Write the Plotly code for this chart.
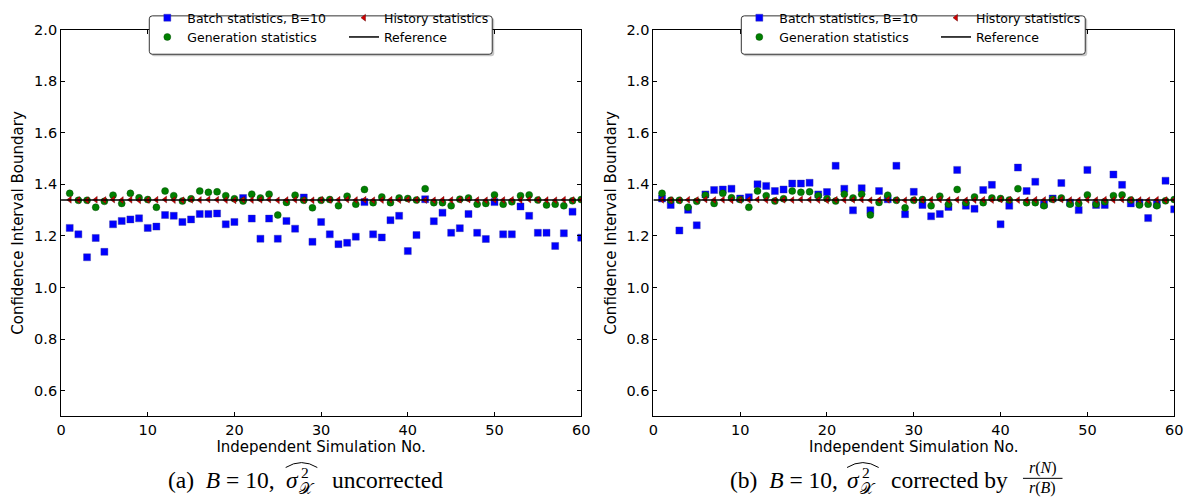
import plotly.graph_objects as go

W, H = 1199, 499

# Simulation index 1..60
sim_no = list(range(1, 61))

# Batch statistics (B=10), uncorrected variance estimator
batch_uncorrected = [
    1.231, 1.206, 1.117, 1.192, 1.138, 1.245, 1.258, 1.264, 1.268, 1.231,
    1.236, 1.281, 1.278, 1.254, 1.264, 1.285, 1.285, 1.287, 1.245, 1.254,
    1.347, 1.267, 1.189, 1.267, 1.189, 1.258, 1.228, 1.349, 1.177, 1.254,
    1.206, 1.168, 1.173, 1.197, 1.331, 1.206, 1.194, 1.261, 1.278, 1.141,
    1.203, 1.342, 1.257, 1.290, 1.212, 1.230, 1.285, 1.212, 1.188, 1.331,
    1.206, 1.206, 1.314, 1.278, 1.212, 1.212, 1.161, 1.210, 1.294, 1.193,
]

# Batch statistics (B=10), corrected by r(N)/r(B)
batch_corrected = [
    1.345, 1.320, 1.221, 1.301, 1.241, 1.361, 1.378, 1.380, 1.383, 1.345,
    1.350, 1.400, 1.394, 1.374, 1.380, 1.403, 1.403, 1.406, 1.361, 1.370,
    1.472, 1.383, 1.299, 1.385, 1.299, 1.374, 1.342, 1.472, 1.284, 1.371,
    1.320, 1.276, 1.285, 1.312, 1.456, 1.317, 1.305, 1.378, 1.398, 1.245,
    1.317, 1.465, 1.374, 1.410, 1.323, 1.345, 1.405, 1.329, 1.300, 1.456,
    1.320, 1.320, 1.438, 1.398, 1.326, 1.329, 1.269, 1.323, 1.414, 1.303,
]

# Generation statistics
generation = [
    1.365, 1.338, 1.338, 1.311, 1.334, 1.358, 1.326, 1.365, 1.348, 1.341,
    1.311, 1.374, 1.356, 1.335, 1.344, 1.374, 1.369, 1.371, 1.356, 1.344,
    1.335, 1.362, 1.347, 1.362, 1.281, 1.330, 1.358, 1.338, 1.309, 1.338,
    1.341, 1.317, 1.354, 1.323, 1.380, 1.329, 1.351, 1.329, 1.347, 1.345,
    1.339, 1.383, 1.329, 1.329, 1.317, 1.342, 1.347, 1.323, 1.326, 1.359,
    1.323, 1.332, 1.356, 1.359, 1.339, 1.320, 1.323, 1.317, 1.336, 1.341,
]

# History statistics
history = [
    1.340, 1.339, 1.338, 1.340, 1.339, 1.341, 1.339, 1.340, 1.338, 1.339,
    1.340, 1.341, 1.339, 1.338, 1.340, 1.339, 1.341, 1.340, 1.339, 1.338,
    1.340, 1.339, 1.340, 1.341, 1.338, 1.339, 1.340, 1.339, 1.338, 1.340,
    1.339, 1.340, 1.341, 1.339, 1.340, 1.338, 1.339, 1.340, 1.339, 1.341,
    1.340, 1.339, 1.338, 1.340, 1.339, 1.340, 1.341, 1.339, 1.338, 1.340,
    1.339, 1.340, 1.339, 1.341, 1.340, 1.339, 1.338, 1.340, 1.339, 1.340,
]

# Reference value
reference = 1.339
ref_x = [0, 60]

y_ticks = [0.6, 0.8, 1.0, 1.2, 1.4, 1.6, 1.8, 2.0]
x_ticks = [0, 10, 20, 30, 40, 50, 60]

FONT = "DejaVu Sans"
SERIF = "Liberation Serif"
BLUE = "#0000ff"
GREEN = "#008000"
RED = "#d00000"


def px(x):
    return x / W


def py(y):
    return 1 - y / H


fig = go.Figure()

# (x axis, y axis, legend for column 1, legend for column 2, batch series)
panels = [
    ("x", "y", "legend", "legend2", batch_uncorrected),
    ("x2", "y2", "legend3", "legend4", batch_corrected),
]

for xa, ya, lg_a, lg_b, batch in panels:
    fig.add_trace(go.Scatter(
        x=sim_no, y=batch, mode="markers", xaxis=xa, yaxis=ya, legend=lg_a,
        name="Batch statistics, B=10", legendrank=1,
        marker=dict(symbol="square", size=7, color=BLUE,
                    line=dict(color="#3030a0", width=0.4)),
    ))
    fig.add_trace(go.Scatter(
        x=sim_no, y=generation, mode="markers", xaxis=xa, yaxis=ya, legend=lg_a,
        name="Generation statistics", legendrank=2,
        marker=dict(symbol="circle", size=7, color=GREEN,
                    line=dict(color="#004000", width=0.4)),
    ))
    fig.add_trace(go.Scatter(
        x=sim_no, y=history, mode="markers", xaxis=xa, yaxis=ya, legend=lg_b,
        name="History statistics", legendrank=1,
        marker=dict(symbol="triangle-left", size=6, color=RED,
                    line=dict(color="#500000", width=0.4)),
    ))
    fig.add_trace(go.Scatter(
        x=ref_x, y=[reference, reference], mode="lines", xaxis=xa, yaxis=ya,
        legend=lg_b, name="Reference", legendrank=2,
        line=dict(color="black", width=1.5),
    ))

axis_common = dict(
    showgrid=False, zeroline=False, showline=True, linecolor="black",
    linewidth=1, mirror="allticks", ticks="inside", ticklen=4,
    tickcolor="black", tickfont=dict(family=FONT, size=14.5, color="black"),
)
title_font = dict(family=FONT, size=15, color="black")

x_dom_a = [px(56.7), px(583)]
x_dom_b = [px(656), px(1183)]
y_dom = [py(415), py(22)]

legend_common = dict(
    orientation="v", bgcolor="rgba(0,0,0,0)", borderwidth=0,
    font=dict(family=FONT, size=12.5, color="black"),
    xanchor="left", yanchor="top", y=py(-5), tracegroupgap=0,
)

fig.update_layout(
    width=W, height=H,
    margin=dict(l=0, r=0, t=0, b=0),
    paper_bgcolor="white", plot_bgcolor="white",
    xaxis=dict(domain=x_dom_a, range=[0, 60], tickvals=x_ticks, anchor="y",
               title=dict(text="Independent Simulation No.", standoff=0,
                          font=title_font),
               **axis_common),
    yaxis=dict(domain=y_dom, range=[0.5, 2.0], tickvals=y_ticks,
               tickformat=".1f", anchor="x",
               title=dict(text="Confidence Interval Boundary", standoff=6,
                          font=title_font),
               **axis_common),
    xaxis2=dict(domain=x_dom_b, range=[0, 60], tickvals=x_ticks, anchor="y2",
                title=dict(text="Independent Simulation No.", standoff=0,
                           font=title_font),
                **axis_common),
    yaxis2=dict(domain=y_dom, range=[0.5, 2.0], tickvals=y_ticks,
                tickformat=".1f", anchor="x2",
                title=dict(text="Confidence Interval Boundary", standoff=6,
                           font=title_font),
                **axis_common),
    legend=dict(x=px(144), **legend_common),
    legend2=dict(x=px(343), **legend_common),
    legend3=dict(x=px(743), **legend_common),
    legend4=dict(x=px(942), **legend_common),
    showlegend=True,
)


def rounded_box(x0, y0, x1, y1, r):
    """Rounded rectangle path in paper coordinates from pixel corners."""
    pts = [
        f"M {px(x0 + r)},{py(y0)}",
        f"L {px(x1 - r)},{py(y0)}",
        f"Q {px(x1)},{py(y0)} {px(x1)},{py(y0 + r)}",
        f"L {px(x1)},{py(y1 - r)}",
        f"Q {px(x1)},{py(y1)} {px(x1 - r)},{py(y1)}",
        f"L {px(x0 + r)},{py(y1)}",
        f"Q {px(x0)},{py(y1)} {px(x0)},{py(y1 - r)}",
        f"L {px(x0)},{py(y0 + r)}",
        f"Q {px(x0)},{py(y0)} {px(x0 + r)},{py(y0)}",
        "Z",
    ]
    return " ".join(pts)


# Legend frames with a soft shadow
for x0, x1 in [(146, 493), (745, 1093)]:
    fig.add_shape(type="path", xref="paper", yref="paper", layer="above",
                  path=rounded_box(x0 + 2, 10, x1 + 2, 49, 3),
                  fillcolor="rgba(0,0,0,0.22)", line=dict(width=0))
    fig.add_shape(type="path", xref="paper", yref="paper", layer="above",
                  path=rounded_box(x0, 8, x1, 47, 3),
                  fillcolor="white", line=dict(color="#333333", width=1))

# Sub-figure captions, assembled from pieces
cap_font = dict(family=SERIF, size=23.5, color="black")
small_font = dict(family=SERIF, size=15.5, color="black")


def text_at(x, y, text, font, anchor="left"):
    fig.add_annotation(x=px(x), y=py(y), xref="paper", yref="paper",
                       xanchor=anchor, yanchor="middle", showarrow=False,
                       font=font, text=text)


def sigma_hat(x_left, y):
    """sigma with a superscript 2, script-X subscript and a wide hat."""
    text_at(x_left - 2, y, "<i>σ</i>", cap_font)
    text_at(x_left + 13, y - 8, "2", small_font)
    text_at(x_left + 11, y + 8, "𝒳", small_font)
    fig.add_shape(type="path", xref="paper", yref="paper",
                  path=(f"M {px(x_left)},{py(y - 13)} "
                        f"Q {px(x_left + 16)},{py(y - 23)} "
                        f"{px(x_left + 32)},{py(y - 13)}"),
                  line=dict(color="black", width=1))


cap_y = 480
text_at(275, cap_y, "(a)  <i>B</i> = 10,", cap_font, anchor="right")
sigma_hat(284, cap_y)
text_at(329, cap_y, "uncorrected", cap_font)

text_at(845, cap_y, "(b)  <i>B</i> = 10,", cap_font, anchor="right")
sigma_hat(852, cap_y)
text_at(894, cap_y, "corrected by", cap_font)

frac_font = dict(family=SERIF, size=16, color="black")
text_at(1050, 468, "<i>r</i>(<i>N</i>)", frac_font, anchor="center")
text_at(1050, 488, "<i>r</i>(<i>B</i>)", frac_font, anchor="center")
fig.add_shape(type="line", xref="paper", yref="paper",
              x0=px(1030), x1=px(1070), y0=py(478), y1=py(478),
              line=dict(color="black", width=1))

fig.write_html("out.html")
